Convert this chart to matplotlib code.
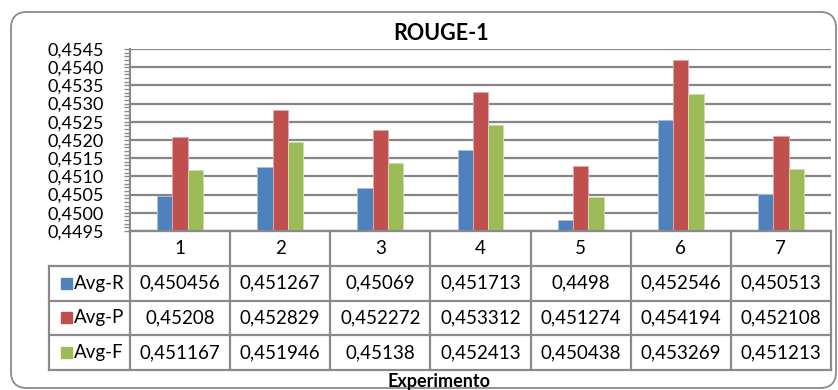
import matplotlib
matplotlib.use("Agg")
import matplotlib.pyplot as plt
from matplotlib.patches import FancyBboxPatch, Rectangle
from matplotlib.transforms import IdentityTransform
from matplotlib.ticker import MultipleLocator, FuncFormatter

plt.rcParams['font.family'] = ['Lato', 'DejaVu Sans']

title = "ROUGE-1"
xlabel = "Experimento"
categories = ["1", "2", "3", "4", "5", "6", "7"]
series_names = ["Avg-R", "Avg-P", "Avg-F"]
avg_r = [0.450456, 0.451267, 0.45069, 0.451713, 0.4498, 0.452546, 0.450513]
avg_p = [0.45208, 0.452829, 0.452272, 0.453312, 0.451274, 0.454194, 0.452108]
avg_f = [0.451167, 0.451946, 0.45138, 0.452413, 0.450438, 0.453269, 0.451213]
table_text = {
    "Avg-R": ["0,450456", "0,451267", "0,45069", "0,451713", "0,4498", "0,452546", "0,450513"],
    "Avg-P": ["0,45208", "0,452829", "0,452272", "0,453312", "0,451274", "0,454194", "0,452108"],
    "Avg-F": ["0,451167", "0,451946", "0,45138", "0,452413", "0,450438", "0,453269", "0,451213"],
}
colors = ["#4F81BD", "#C0504D", "#9BBB59"]
edge_colors = ["#A7C0DE", "#E0A8A6", "#CDDDAC"]
ymin, ymax = 0.4495, 0.4545

W, H = 838, 390
fig = plt.figure(figsize=(W / 100, H / 100), dpi=100)

def fx(px):
    return px / W

def fy(py):
    return 1 - py / H

# rounded chart border (display pixel coords)
border = FancyBboxPatch((11, H - 388), 825, 376,
                        boxstyle="round,pad=0,rounding_size=16",
                        transform=IdentityTransform(), fill=False,
                        edgecolor="#8A8A8A", linewidth=1.3)
fig.add_artist(border)

# plot area
left_px, right_px, top_px, bot_px = 130, 831, 49, 231
ax = fig.add_axes([fx(left_px), fy(bot_px), fx(right_px - left_px), (bot_px - top_px) / H])
x = list(range(len(categories)))
bw = 0.153
series = [avg_r, avg_p, avg_f]
for i, (vals, c, ec) in enumerate(zip(series, colors, edge_colors)):
    xs = [xi + (i - 1) * bw for xi in x]
    ax.bar(xs, [v - ymin for v in vals], bottom=ymin, width=bw, color=c,
           edgecolor=ec, linewidth=0.7, zorder=3)
ax.set_xlim(-0.5, len(categories) - 0.5)
ax.set_ylim(ymin, ymax)
ax.yaxis.set_major_locator(MultipleLocator(0.0005))
ax.yaxis.set_minor_locator(MultipleLocator(0.0001))
ax.yaxis.set_major_formatter(FuncFormatter(lambda v, p: f"{v:.4f}".replace(".", ",")))
ax.tick_params(axis='y', which='both', direction='out', length=4, width=1,
               color="#8A8A8A", labelsize=13, pad=15)
ax.tick_params(axis='x', length=0, labelbottom=False)
ax.grid(axis='y', which='major', color="#868686", linewidth=1.6, zorder=0)
ax.spines["right"].set_visible(False)
ax.spines["top"].set_visible(False)
ax.spines["left"].set_color("#8A8A8A")
ax.spines["left"].set_linewidth(1.5)
ax.spines["bottom"].set_color("#8A8A8A")
ax.spines["bottom"].set_linewidth(1.5)
ax.set_facecolor("none")

# data table
tab_top, tab_bot = 231, 370
tax = fig.add_axes([fx(left_px), fy(tab_bot), fx(right_px - left_px), (tab_bot - tab_top) / H])
tax.set_xlim(-0.5, len(categories) - 0.5)
tax.set_ylim(4, 0)
tax.axis("off")
lc = "#8A8A8A"
lw = 1.6
leg_left = -0.5 - 0.81
# horizontal lines
tax.plot([-0.5, len(categories) - 0.5], [0, 0], color=lc, lw=lw, clip_on=False)
for r in [1, 2, 3, 4]:
    tax.plot([leg_left, len(categories) - 0.5], [r, r], color=lc, lw=lw, clip_on=False)
# vertical lines
for k in range(len(categories) + 1):
    tax.plot([k - 0.5, k - 0.5], [0, 4], color=lc, lw=lw, clip_on=False)
tax.plot([leg_left, leg_left], [1, 4], color=lc, lw=lw, clip_on=False)
# header
for xi, cat in zip(x, categories):
    tax.text(xi, 0.5, cat, ha="center", va="center", fontsize=13.5)
# rows
for r, (name, c) in enumerate(zip(series_names, colors), start=1):
    tax.add_patch(Rectangle((leg_left + 0.12, r + 0.5 - 0.16), 0.11, 0.32,
                            color=c, clip_on=False))
    tax.text(leg_left + 0.25, r + 0.5, name, ha="left", va="center", fontsize=13.5)
    for xi, t in zip(x, table_text[name]):
        tax.text(xi, r + 0.5, t, ha="center", va="center", fontsize=13.5)

fig.text(fx(441), fy(34), title, ha="center", va="center", fontsize=15.5, fontweight="bold")
fig.text(fx(439), fy(381), xlabel, ha="center", va="center", fontsize=13, fontweight="bold")

fig.savefig("out.png", dpi=100)
